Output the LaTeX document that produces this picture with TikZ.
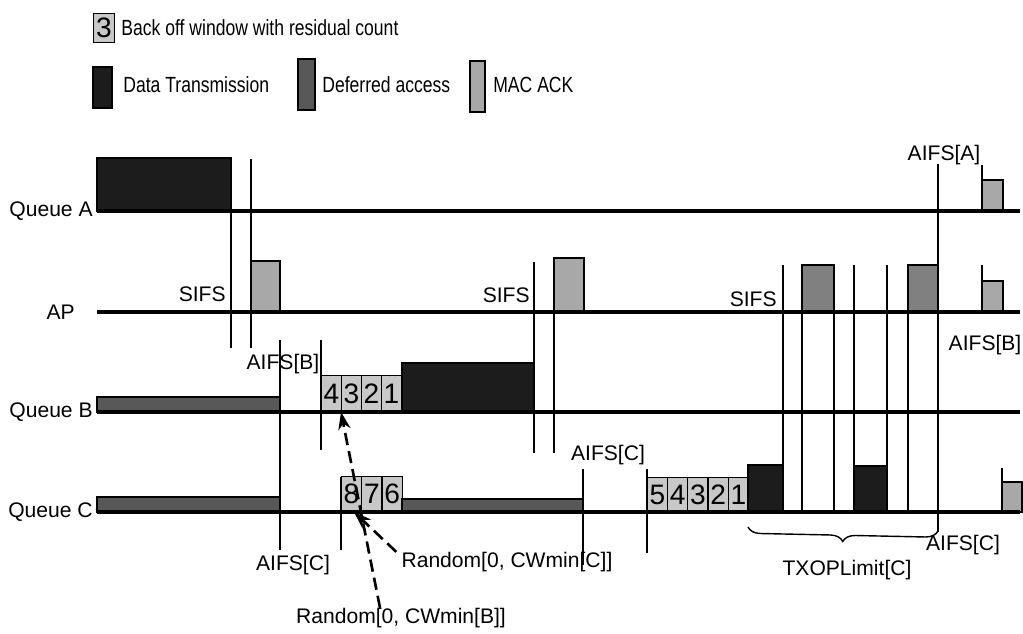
\documentclass[tikz,border=0pt]{standalone}
\usepackage{fontspec}
\setmainfont{Liberation Sans}
\newfontfamily\legendfont[FakeStretch=0.8]{Liberation Sans}
\usepackage{xcolor}
\usepackage{tikz}
\usetikzlibrary{arrows.meta, positioning, calc, decorations.pathreplacing}
\definecolor{datagray}{RGB}{28,28,28}
\definecolor{defergray}{RGB}{88,88,88}
\definecolor{ackgray}{RGB}{168,168,168}
\definecolor{apgray}{RGB}{128,128,128}
\definecolor{bogray}{RGB}{200,200,200}

\begin{document}
\begin{tikzpicture}[
  x=0.02cm, y=-0.02cm,
  tline/.style    = {line width=1.8pt, black},
  vline/.style    = {line width=1pt, black},
  databar/.style  = {draw=black, line width=0.6pt, fill=datagray},
  deferbar/.style = {draw=black, line width=0.6pt, fill=defergray},
  ackbar/.style   = {draw=black, line width=0.6pt, fill=ackgray},
  apbar/.style    = {draw=black, line width=0.6pt, fill=apgray},
  bobox/.style    = {rectangle, draw=black, line width=0.6pt, fill=bogray,
                  minimum width=0.4cm, minimum height=0.7cm, inner sep=0pt,
                  anchor=south west, font=\fontsize{16}{16}\selectfont},
  qlabel/.style   = {font=\fontsize{12}{14}\selectfont, inner sep=0pt},
  tlabel/.style   = {font=\fontsize{12}{14}\selectfont, inner sep=0pt},
  leglabel/.style = {font=\legendfont\fontsize{12.5}{14}\selectfont, inner sep=0pt, anchor=west},
  dasharr/.style  = {-{Stealth[length=10pt, width=7pt]}, line width=1.5pt,
                  dash pattern=on 7pt off 3.5pt},
]
\useasboundingbox (0,0) rectangle (1023,634);

%% Legend
\node[bobox, minimum width=0.42cm, minimum height=0.58cm, anchor=north west] (legbo) at (93,13) {3};
\node[leglabel, right=0.12cm of legbo] (legbotxt) {Back off window with residual count};
\draw[databar]  (93,67) rectangle (112,108);
\node[leglabel] (legdata) at (123,85) {Data Transmission};
\draw[deferbar] (298,59) rectangle (315,110);
\node[leglabel] (legdefer) at (322,85) {Deferred access};
\draw[ackbar]   (470,61) rectangle (485,112);
\node[leglabel] (legack) at (493,85) {MAC ACK};

%% Queue A
\draw[databar] (97,158) rectangle (231,211);
\draw[ackbar]  (982,180) rectangle (1003,211);

%% AP
\draw[ackbar] (251,261) rectangle (280,312);
\draw[ackbar] (554,258) rectangle (584,312);
\draw[apbar]  (802,265) rectangle (834,312);
\draw[apbar]  (908,265) rectangle (938,312);
\draw[ackbar] (982,281) rectangle (1003,312);

%% Queue B
\draw[deferbar] (97,397) rectangle (280,412);
\foreach \n [count=\i from 0] in {4,3,2,1}
  \node[bobox, minimum height=0.72cm] (qb\n) at ({321+20*\i},412) {\n};
\draw[databar] (402,363) rectangle (534,412);

%% Queue C
\draw[deferbar] (97,497) rectangle (280,512);
\foreach \n [count=\i from 0] in {8,7,6}
  \node[bobox] (qc\n) at ({341+20.3*\i},512) {\n};
\draw[deferbar] (402,499) rectangle (583,512);
\foreach \n [count=\i from 0] in {5,4,3,2,1}
  \node[bobox, minimum height=0.68cm] (qd\n) at ({647+20.2*\i},512) {\n};
\draw[databar] (748,465) rectangle (783,512);
\draw[databar] (854,466) rectangle (887,512);
\draw[ackbar]  (1002,482) rectangle (1022,512);

%% Time lines
\foreach \name/\y in {qa/211, ap/312, qb/412, qc/512} {
  \coordinate (\name) at (97,\y);
  \draw[tline] (\name) -- (1020,\y);
}
\node[qlabel, left=0.08cm of qa] (lqa) {Queue A};
\node[qlabel, left=0.44cm of ap] (lap) {AP};
\node[qlabel, left=0.08cm of qb] (lqb) {Queue B};
\node[qlabel, left=0.08cm of qc] (lqc) {Queue C};

%% Slot boundaries
\foreach \x/\ya/\yb in {231/211/348, 251/159/348, 534/262/453, 554/258/453,
                        280/340/550, 321/340/450, 341/477/550, 583/469/565,
                        647/469/553, 783/265/512, 802/265/512, 834/265/512,
                        854/265/512, 887/265/512, 908/265/512, 938/164/532,
                        982/165/211, 982/265/312, 1002/468/512} {
  \draw[vline] (\x,\ya) -- (\x,\yb);
}

%% Interval labels
\node[tlabel, anchor=east] (sifs1) at (226,294) {SIFS};
\node[tlabel, anchor=east] (sifs2) at (530,295) {SIFS};
\node[tlabel, anchor=east] (sifs3) at (777,299) {SIFS};
\node[tlabel] (aifsa)  at (944,155) {AIFS[A]};
\node[tlabel] (aifsb1) at (283,364) {AIFS[B]};
\node[tlabel] (aifsb2) at (985,345) {AIFS[B]};
\node[tlabel] (aifsc1) at (293,565) {AIFS[C]};
\node[tlabel] (aifsc2) at (608,455) {AIFS[C]};
\node[tlabel] (aifsc3) at (963,545) {AIFS[C]};
\node[tlabel] (rndc) at (507,562) {Random[0, CWmin[C]]};
\node[tlabel] (rndb) at (401,618) {Random[0, CWmin[B]]};

%% Random backoff arrows
\draw[dasharr] ([xshift=-0.42cm]rndb.north) -- (qb3.south west);
\draw[dasharr] ([xshift=-0.1cm]rndc.north west) -- ([xshift=0.05cm]qc8.south);

%% TXOP brace
\coordinate (txs) at (748,527);
\coordinate (txe) at (938,531);
\draw[line width=0.8pt, decorate, decoration={brace, mirror, amplitude=0.25cm}] (txs) -- (txe);
\node[tlabel] (txop) at (847,570) {TXOPLimit[C]};

\end{tikzpicture}
\end{document}
